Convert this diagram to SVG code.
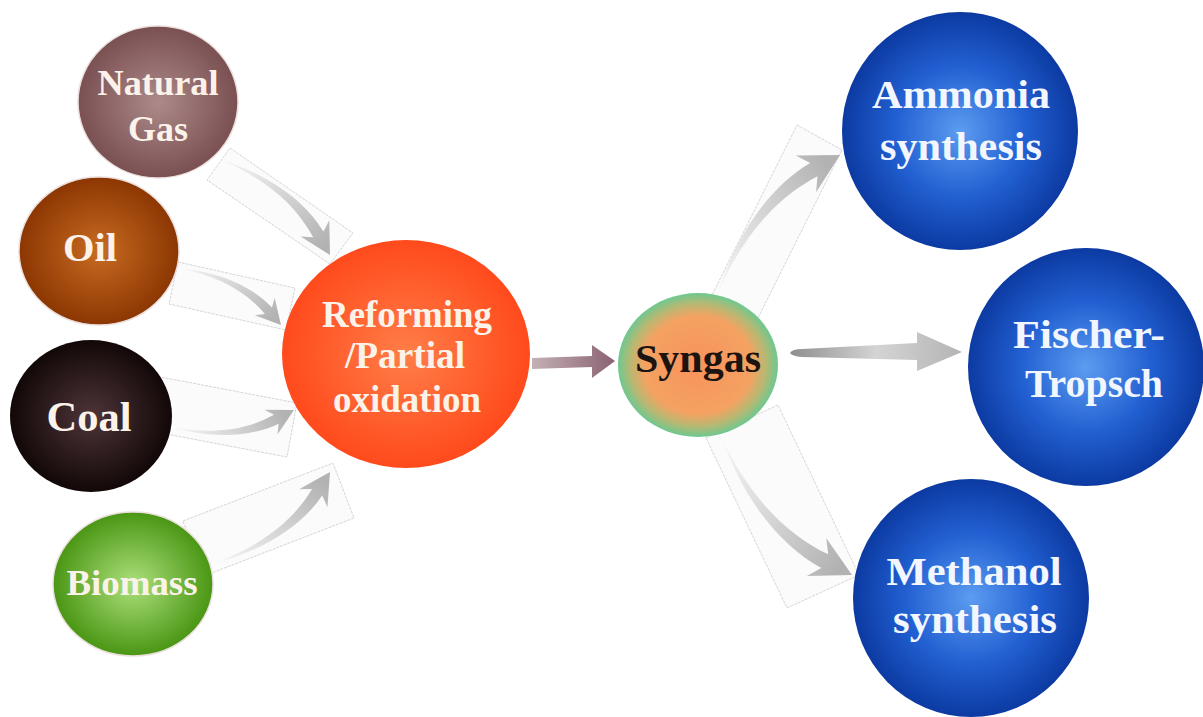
<svg xmlns="http://www.w3.org/2000/svg" xmlns:xlink="http://www.w3.org/1999/xlink" width="1203" height="717" viewBox="0 0 1203 717">
<defs>
<style>
.box{fill:#fbfbfb;stroke:#d6d6d6;stroke-width:1;stroke-dasharray:3 1}
.lbl{font-family:"Liberation Serif","Times New Roman",serif;font-weight:bold;text-anchor:middle}
.w{fill:#fbf3ea}
.wb{fill:#f2f6ff}
.rim{stroke:#eadfdc;stroke-width:1.5}
</style>
<linearGradient id="swooshG" gradientUnits="userSpaceOnUse" x1="-115" y1="0" x2="-10" y2="0">
<stop offset="0" stop-color="#f6f6f6"/>
<stop offset="1" stop-color="#b2b2b2"/>
</linearGradient>
<path id="swoosh" d="M-115,40 C-89.5,16 -55,-4 -20,-5 L-26,-14 L0,0 L-26,14 L-20,5 C-55,4 -87,19 -115,40 Z" fill="url(#swooshG)"/>
<radialGradient id="gNG" cx="0.5" cy="0.5" r="0.5"><stop offset="0" stop-color="#ad8a8a"/><stop offset="1" stop-color="#7a5052"/></radialGradient>
<radialGradient id="gOil" cx="0.5" cy="0.5" r="0.5"><stop offset="0" stop-color="#c86c22"/><stop offset="1" stop-color="#8c3602"/></radialGradient>
<radialGradient id="gCoal" cx="0.5" cy="0.5" r="0.5"><stop offset="0" stop-color="#4e3438"/><stop offset="1" stop-color="#120808"/></radialGradient>
<radialGradient id="gBio" cx="0.5" cy="0.5" r="0.5"><stop offset="0" stop-color="#ace07c"/><stop offset="1" stop-color="#4a9614"/></radialGradient>
<radialGradient id="gRef" cx="0.5" cy="0.5" r="0.5"><stop offset="0" stop-color="#ff7e48"/><stop offset="1" stop-color="#ff4a1c"/></radialGradient>
<radialGradient id="gSyn" cx="0.5" cy="0.5" r="0.5"><stop offset="0" stop-color="#f8925c"/><stop offset="0.68" stop-color="#f4a262"/><stop offset="0.85" stop-color="#b8b872"/><stop offset="1" stop-color="#6ec890"/></radialGradient>
<radialGradient id="gBlue" cx="0.5" cy="0.5" r="0.5"><stop offset="0" stop-color="#5c9cf0"/><stop offset="0.55" stop-color="#2260d2"/><stop offset="1" stop-color="#0c3aa2"/></radialGradient>
<linearGradient id="gRS" x1="0" y1="0" x2="1" y2="0"><stop offset="0" stop-color="#c4b0b4"/><stop offset="1" stop-color="#8a6272"/></linearGradient>
<linearGradient id="gSF" x1="0" y1="0" x2="1" y2="0"><stop offset="0" stop-color="#8e8e8e"/><stop offset="0.5" stop-color="#d4d4d4"/><stop offset="1" stop-color="#b4b4b4"/></linearGradient>
</defs>
<rect width="1203" height="717" fill="#ffffff"/>
<g id="connectors">
<polygon class="box" points="230,148 353,233 330,264 207,180"/>
<polygon class="box" points="178,262 295,288 286,330 169,304"/>
<polygon class="box" points="150,375 297,403 287,457 140,429"/>
<polygon class="box" points="183,521 333,463 354,518 204,576"/>
<polygon class="box" points="797,125 842,150 752,330 707,305"/>
<polygon class="box" points="706,438 778,405 859,575 787,608"/>
<use xlink:href="#swoosh" transform="translate(330,255) rotate(60.5) scale(1.18)"/>
<use xlink:href="#swoosh" transform="translate(281,325) rotate(48.6) scale(0.95)"/>
<use xlink:href="#swoosh" transform="translate(294,410) rotate(-27.6) scale(1,-1)"/>
<use xlink:href="#swoosh" transform="translate(330,472) rotate(-57.6) scale(1.2,-1.2)"/>
<use xlink:href="#swoosh" transform="translate(840,155) rotate(-29.1) scale(1.5)"/>
<use xlink:href="#swoosh" transform="translate(852,575) rotate(26.9) scale(1.53,-1.53)"/>
<path d="M532,358 L592,356 L592,345 L615,361 L592,378 L592,367 L532,369 Z" fill="url(#gRS)"/>
<path d="M790,353 Q792,349 802,349 L917,343 L917,332 L962,352 L917,371 L917,360 L802,357 Q792,356 790,353 Z" fill="url(#gSF)"/>
</g>
<g id="natural-gas">
<ellipse cx="158" cy="102" rx="80" ry="76" fill="url(#gNG)" class="rim"/>
<text class="lbl w" font-size="35" x="158" y="95" textLength="121" lengthAdjust="spacingAndGlyphs">Natural</text>
<text class="lbl w" font-size="35" x="158" y="141" textLength="60" lengthAdjust="spacingAndGlyphs">Gas</text>
</g>
<g id="oil">
<ellipse cx="99" cy="251" rx="80" ry="74" fill="url(#gOil)" class="rim"/>
<text class="lbl w" font-size="40" x="90" y="261" textLength="54" lengthAdjust="spacingAndGlyphs">Oil</text>
</g>
<g id="coal">
<ellipse cx="91" cy="416" rx="81" ry="76" fill="url(#gCoal)"/>
<text class="lbl w" font-size="42" x="89" y="431" textLength="85" lengthAdjust="spacingAndGlyphs">Coal</text>
</g>
<g id="biomass">
<ellipse cx="133" cy="584" rx="80" ry="72" fill="url(#gBio)" class="rim"/>
<text class="lbl w" font-size="35" x="132" y="595" textLength="131" lengthAdjust="spacingAndGlyphs">Biomass</text>
</g>
<g id="reforming">
<ellipse cx="406" cy="354" rx="124" ry="114" fill="url(#gRef)"/>
<text class="lbl w" font-size="37" x="407" y="327" textLength="170" lengthAdjust="spacingAndGlyphs">Reforming</text>
<text class="lbl w" font-size="37" x="405" y="368" textLength="120" lengthAdjust="spacingAndGlyphs">/Partial</text>
<text class="lbl w" font-size="37" x="407" y="412" textLength="148" lengthAdjust="spacingAndGlyphs">oxidation</text>
</g>
<g id="syngas">
<ellipse cx="698" cy="365" rx="80" ry="72" fill="url(#gSyn)"/>
<text class="lbl" fill="#1c1410" font-size="41" x="698" y="372" textLength="126" lengthAdjust="spacingAndGlyphs">Syngas</text>
</g>
<g id="ammonia">
<ellipse cx="960" cy="131" rx="118" ry="119" fill="url(#gBlue)"/>
<text class="lbl wb" font-size="41" x="961" y="108" textLength="178" lengthAdjust="spacingAndGlyphs">Ammonia</text>
<text class="lbl wb" font-size="41" x="961" y="160" textLength="162" lengthAdjust="spacingAndGlyphs">synthesis</text>
</g>
<g id="fischer-tropsch">
<ellipse cx="1086" cy="367" rx="118" ry="119" fill="url(#gBlue)"/>
<text class="lbl wb" font-size="41" x="1089" y="348" textLength="152" lengthAdjust="spacingAndGlyphs">Fischer-</text>
<text class="lbl wb" font-size="41" x="1094" y="397" textLength="138" lengthAdjust="spacingAndGlyphs">Tropsch</text>
</g>
<g id="methanol">
<ellipse cx="971" cy="598" rx="118" ry="119" fill="url(#gBlue)"/>
<text class="lbl wb" font-size="41" x="974" y="585" textLength="175" lengthAdjust="spacingAndGlyphs">Methanol</text>
<text class="lbl wb" font-size="41" x="975" y="633" textLength="164" lengthAdjust="spacingAndGlyphs">synthesis</text>
</g>
</svg>
